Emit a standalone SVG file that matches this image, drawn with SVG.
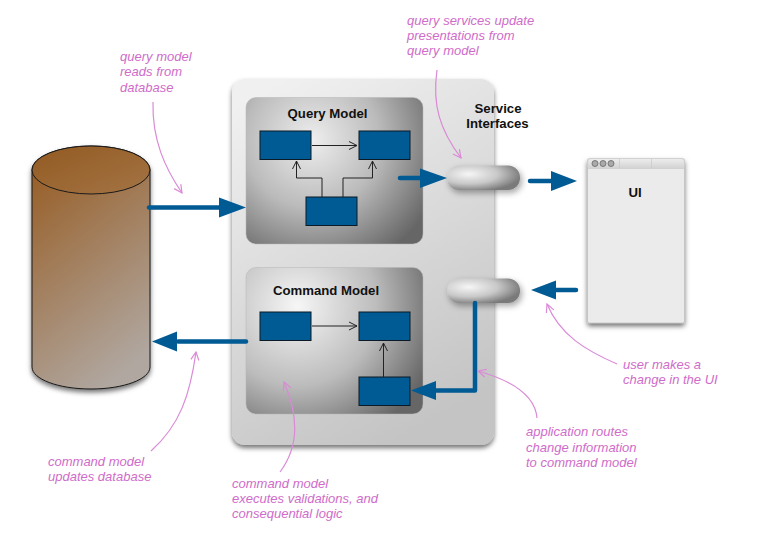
<svg xmlns="http://www.w3.org/2000/svg" width="782" height="553" viewBox="0 0 782 553">
<style>
.note{font-family:"Liberation Sans",Arial,sans-serif;font-size:13px;font-style:italic;fill:#cf6cc9}
.title{font-family:"Liberation Sans",Arial,sans-serif;font-size:13.200px;font-weight:bold;fill:#111;text-anchor:middle}
.box{fill:#005a94;stroke:#0b1a26;stroke-width:1}
.thin{fill:none;stroke:#222;stroke-width:1}
.flow{fill:none;stroke:#005a94;stroke-width:4.500;stroke-linecap:round;stroke-linejoin:round}
.head{fill:#005a94}
.call{fill:none;stroke:#da8ad6;stroke-width:1.200}
.panel{stroke:#b5b5b5;stroke-width:.5}
</style>
<defs>
<linearGradient id="bg" x1="0.2" y1="0" x2="0.6" y2="1"><stop offset="0" stop-color="#f0f0f0"/><stop offset="1" stop-color="#c4c4c4"/></linearGradient>
<radialGradient id="qg" gradientUnits="userSpaceOnUse" cx="312" cy="140" r="135"><stop offset="0" stop-color="#eeeeee"/><stop offset=".5" stop-color="#bbbbbb"/><stop offset="1" stop-color="#666"/></radialGradient>
<radialGradient id="cg" gradientUnits="userSpaceOnUse" cx="297" cy="306" r="145"><stop offset="0" stop-color="#f6f6f6"/><stop offset=".55" stop-color="#bcbcbc"/><stop offset="1" stop-color="#666"/></radialGradient>
<radialGradient id="pg" cx=".3" cy=".35" r=".72"><stop offset="0" stop-color="#f6f6f6"/><stop offset=".55" stop-color="#c8c8c8"/><stop offset="1" stop-color="#7a7a7a"/></radialGradient>
<linearGradient id="cyl" x1=".2" y1="0" x2=".6" y2="1"><stop offset="0" stop-color="#975d25"/><stop offset="1" stop-color="#b0a7a0"/></linearGradient>
<linearGradient id="cylTop" x1="0" y1="0" x2="1" y2="1"><stop offset="0" stop-color="#935a22"/><stop offset="1" stop-color="#a37444"/></linearGradient>
<linearGradient id="bar" x1="0" y1="0" x2="0" y2="1"><stop offset="0" stop-color="#eee"/><stop offset="1" stop-color="#d2d2d2"/></linearGradient>
<filter id="sh" x="-20%" y="-20%" width="140%" height="140%"><feDropShadow dx="0" dy="3" stdDeviation="2.500" flood-color="#000" flood-opacity=".55"/></filter>
<filter id="sh2" x="-20%" y="-40%" width="140%" height="200%"><feDropShadow dx="2" dy="3" stdDeviation="3" flood-color="#000" flood-opacity=".35"/></filter>
<marker id="open" viewBox="0 0 10 10" refX="9" refY="5" markerWidth="10" markerHeight="10" markerUnits="userSpaceOnUse" orient="auto"><path d="M1 1L9 5L1 9" fill="none" stroke="#222" stroke-width="1"/></marker>
<marker id="pink" viewBox="0 0 10 10" refX="9" refY="5" markerWidth="10" markerHeight="10" markerUnits="userSpaceOnUse" orient="auto"><path d="M1 1L9 5L1 9" fill="none" stroke="#da8ad6" stroke-width="1.200"/></marker>
</defs>
<rect width="782" height="553" fill="#fff"/>
<g id="database"><path filter="url(#sh)" d="M32 170V367C32 379 58 389 91 389S150 379 150 367V170C150 157 124 146 91 146S32 157 32 170Z" fill="url(#cyl)" stroke="#1a1a1a" stroke-width="1"/><ellipse cx="91" cy="170" rx="59" ry="24" fill="url(#cylTop)" stroke="#1a1a1a" stroke-width="1"/></g>
<g id="service-panel"><rect x="232" y="79" width="262" height="366" rx="13" fill="url(#bg)" filter="url(#sh)"/></g>
<g id="query-model"><rect class="panel" x="246" y="97.500" width="177" height="146.500" rx="10" fill="url(#qg)"/><text class="title" x="327.500" y="118">Query Model</text></g>
<g id="command-model"><rect class="panel" x="246" y="267.500" width="177" height="146.500" rx="10" fill="url(#cg)"/><text class="title" x="326" y="295">Command Model</text></g>
<g id="service-interfaces-label"><text class="title" x="498" y="113">Service</text><text class="title" x="497.500" y="128">Interfaces</text></g>
<g id="query-box-1"><rect class="box" x="260" y="131" width="51" height="28.500"/></g>
<g id="query-box-2"><rect class="box" x="359" y="131" width="51" height="28.500"/></g>
<g id="query-box-3"><rect class="box" x="306" y="197" width="51" height="28.500"/></g>
<g id="command-box-1"><rect class="box" x="260" y="312" width="51" height="28.500"/></g>
<g id="command-box-2"><rect class="box" x="359" y="312" width="51" height="28.500"/></g>
<g id="command-box-3"><rect class="box" x="359" y="377" width="51" height="28.500"/></g>
<g id="service-top"><rect x="447" y="165.500" width="73" height="24.500" rx="12" fill="url(#pg)" filter="url(#sh2)"/></g>
<g id="service-bottom"><rect x="447" y="278.500" width="73" height="24.500" rx="12" fill="url(#pg)" filter="url(#sh2)"/></g>
<g id="ui-window"><rect x="587.500" y="158.500" width="97" height="164.500" rx="2" fill="#ebebeb" stroke="#aaa" stroke-width=".5" filter="url(#sh)"/><path d="M587.500 168.500V162Q587.500 158.500 591 158.500H681Q684.500 158.500 684.500 162V168.500Z" fill="url(#bar)" stroke="#c4c4c4" stroke-width=".5"/><path d="M619.500 159V168M651.500 159V168" stroke="#c4c4c4" stroke-width=".6"/><g fill="#aaa" stroke="#666" stroke-width=".8"><circle cx="595" cy="163.500" r="3"/><circle cx="603" cy="163.500" r="3"/><circle cx="611" cy="163.500" r="3"/></g><text class="title" x="635" y="197">UI</text></g>
<g id="connectors">
<path class="thin" marker-end="url(#open)" d="M312 145.500H357"/>
<path class="thin" marker-end="url(#open)" d="M322 197V178H296.500V161"/>
<path class="thin" marker-end="url(#open)" d="M343 197V178H372.500V161"/>
<path class="thin" marker-end="url(#open)" d="M312 326H357"/>
<path class="thin" marker-end="url(#open)" d="M383.500 377V343"/>
<path class="flow" d="M149 207.500H222"/><path class="head" d="M219 197.500L246 207.500L219 217.500Z"/>
<path class="flow" d="M400 178H422"/><path class="head" d="M420 168.500L447 178L420 188Z"/>
<path class="flow" d="M530 181H552"/><path class="head" d="M551 171L577 181L551 191Z"/>
<path class="flow" d="M576 290H556"/><path class="head" d="M556 280.500L531 290L556 299.500Z"/>
<path class="flow" d="M475 303V390.500H434"/><path class="head" d="M436 381L411 390.500L436 400Z"/>
<path class="flow" d="M246 341.500H178"/><path class="head" d="M177 331.500L152 341.500L177 351.500Z"/>
<path class="call" marker-end="url(#pink)" d="M153 102C152 140 165 168 182 193"/>
<path class="call" marker-end="url(#pink)" d="M437 70C432 105 440 130 461 158"/>
<path class="call" marker-end="url(#pink)" d="M617 364C585 350 560 335 547 304"/>
<path class="call" marker-end="url(#pink)" d="M537 418C535 395 510 380 478 371"/>
<path class="call" marker-end="url(#pink)" d="M151 451C180 425 190 395 196 352"/>
<path class="call" marker-end="url(#pink)" d="M280 472C300 445 298 415 284 382"/>
</g>
<g id="notes">
<text class="note"><tspan x="120" y="61">query model</tspan><tspan x="120" y="76">reads from</tspan><tspan x="120" y="92">database</tspan></text>
<text class="note"><tspan x="407" y="25">query services update</tspan><tspan x="407" y="40">presentations from</tspan><tspan x="407" y="55">query model</tspan></text>
<text class="note"><tspan x="623" y="369">user makes a</tspan><tspan x="623" y="384">change in the UI</tspan></text>
<text class="note"><tspan x="526" y="436">application routes</tspan><tspan x="526" y="452">change information</tspan><tspan x="526" y="467">to command model</tspan></text>
<text class="note"><tspan x="48" y="466">command model</tspan><tspan x="48" y="481">updates database</tspan></text>
<text class="note"><tspan x="232" y="488">command model</tspan><tspan x="232" y="503">executes validations, and</tspan><tspan x="232" y="518">consequential logic</tspan></text>
</g>
</svg>
